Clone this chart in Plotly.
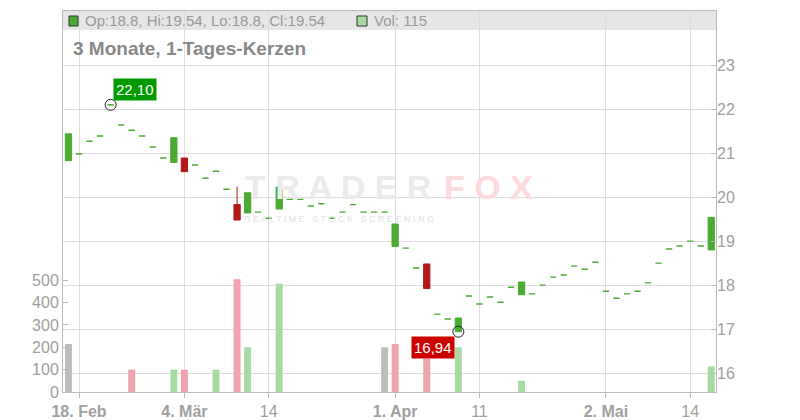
import plotly.graph_objects as go

# ---- data -------------------------------------------------------------
dates = [
    "2025-02-17", "2025-02-18", "2025-02-19", "2025-02-20", "2025-02-21",
    "2025-02-24", "2025-02-25", "2025-02-26", "2025-02-27", "2025-02-28",
    "2025-03-03", "2025-03-04", "2025-03-05", "2025-03-06", "2025-03-07",
    "2025-03-10", "2025-03-11", "2025-03-12", "2025-03-13", "2025-03-14",
    "2025-03-17", "2025-03-18", "2025-03-19", "2025-03-20", "2025-03-21",
    "2025-03-24", "2025-03-25", "2025-03-26", "2025-03-27", "2025-03-28",
    "2025-03-31", "2025-04-01", "2025-04-02", "2025-04-03", "2025-04-04",
    "2025-04-07", "2025-04-08", "2025-04-09", "2025-04-10", "2025-04-11",
    "2025-04-14", "2025-04-15", "2025-04-16", "2025-04-17", "2025-04-22",
    "2025-04-23", "2025-04-24", "2025-04-25", "2025-04-28", "2025-04-29",
    "2025-04-30", "2025-05-02", "2025-05-05", "2025-05-06", "2025-05-07",
    "2025-05-08", "2025-05-09", "2025-05-12", "2025-05-13", "2025-05-14",
    "2025-05-15", "2025-05-16",
]

open_ = [20.83, 20.98, 21.27, 21.39, 22.10, 21.64, 21.52, 21.39, 21.14, 20.89,
         20.79, 20.89, 20.73, 20.43, 20.59, 20.18, 19.83, 19.64, 19.66, 19.52,
         19.73, 19.95, 19.95, 19.80, 19.85, 19.52, 19.66, 19.83, 19.66, 19.66,
         19.66, 18.88, 18.84, 18.39, 18.48, 17.34, 17.23, 16.94, 17.75, 17.57,
         17.73, 17.61, 17.95, 17.78, 17.80, 18.00, 18.18, 18.23, 18.43, 18.36,
         18.52, 17.86, 17.70, 17.80, 17.86, 18.05, 18.50, 18.82, 18.89, 19.00,
         18.89, 18.80]
high = [21.44, 20.98, 21.27, 21.39, 22.10, 21.64, 21.52, 21.39, 21.14, 20.89,
        21.35, 20.89, 20.73, 20.43, 20.59, 20.18, 20.24, 20.10, 19.66, 19.52,
        20.23, 19.95, 19.95, 19.80, 19.85, 19.52, 19.66, 19.83, 19.66, 19.66,
        19.66, 19.39, 18.84, 18.39, 18.48, 17.34, 17.23, 17.25, 17.75, 17.57,
        17.73, 17.61, 17.95, 18.07, 17.80, 18.00, 18.18, 18.23, 18.43, 18.36,
        18.52, 17.86, 17.70, 17.80, 17.86, 18.05, 18.50, 18.82, 18.89, 19.00,
        18.89, 19.54]
low = [20.83, 20.98, 21.27, 21.39, 22.10, 21.64, 21.52, 21.39, 21.14, 20.89,
       20.79, 20.58, 20.73, 20.43, 20.59, 20.18, 19.48, 19.64, 19.66, 19.52,
       19.73, 19.95, 19.95, 19.80, 19.85, 19.52, 19.66, 19.83, 19.66, 19.66,
       19.66, 18.88, 18.84, 18.39, 17.92, 17.34, 17.23, 16.94, 17.75, 17.57,
       17.73, 17.61, 17.95, 17.78, 17.80, 18.00, 18.18, 18.23, 18.43, 18.36,
       18.52, 17.86, 17.70, 17.80, 17.86, 18.05, 18.50, 18.82, 18.89, 19.00,
       18.89, 18.80]
close = [21.44, 20.98, 21.27, 21.39, 22.10, 21.64, 21.52, 21.39, 21.14, 20.89,
         21.35, 20.58, 20.73, 20.43, 20.59, 20.18, 19.48, 20.10, 19.66, 19.52,
         20.23, 19.95, 19.95, 19.80, 19.85, 19.52, 19.66, 19.83, 19.66, 19.66,
         19.66, 19.39, 18.84, 18.39, 17.92, 17.34, 17.23, 17.25, 17.75, 17.57,
         17.73, 17.61, 17.95, 18.07, 17.80, 18.00, 18.18, 18.23, 18.43, 18.36,
         18.52, 17.86, 17.70, 17.80, 17.86, 18.05, 18.50, 18.82, 18.89, 19.00,
         18.89, 19.54]
volume = [215, 0, 0, 0, 0, 0, 100, 0, 0, 0,
          100, 100, 0, 0, 100, 0, 505, 200, 0, 0,
          485, 0, 0, 0, 0, 0, 0, 0, 0, 0,
          200, 215, 0, 0, 150, 0, 0, 200, 0, 0,
          0, 0, 0, 50, 0, 0, 0, 0, 0, 0,
          0, 0, 0, 0, 0, 0, 0, 0, 0, 0,
          0, 115]

tick_dates = ["2025-02-18", "2025-03-04", "2025-03-14", "2025-04-01",
              "2025-04-11", "2025-05-02", "2025-05-14"]
tick_labels = ["<b>18. Feb</b>", "<b>4. Mär</b>", "14", "<b>1. Apr</b>",
               "11", "<b>2. Mai</b>", "14"]
price_ticks = [16, 17, 18, 19, 20, 21, 22, 23]
volume_ticks = [0, 100, 200, 300, 400, 500]

title_text = "3 Monate, 1-Tages-Kerzen"

# ---- styles -----------------------------------------------------------
GREEN = "#4aaa32"
RED = "#b21818"
VOL_UP = "#a8dba3"
VOL_DOWN = "#efa3ac"
VOL_FLAT = "#bdbdbd"
GRID = "#dddddd"
AXIS = "#bbbbbb"
TXT = "#a0a0a0"
FONT = "Liberation Sans, Arial, sans-serif"

# split real candles and flat (dash) days
cand_idx = [i for i in range(len(dates)) if open_[i] != close[i]]
flat_idx = [i for i in range(len(dates)) if open_[i] == close[i]]

vol_colors = []
for i in range(len(dates)):
    if i == 0 or close[i] == close[i - 1]:
        vol_colors.append(VOL_FLAT)
    elif close[i] > close[i - 1]:
        vol_colors.append(VOL_UP)
    else:
        vol_colors.append(VOL_DOWN)

fig = go.Figure()

fig.add_trace(go.Bar(
    x=dates, y=volume, marker=dict(color=vol_colors, line=dict(width=0)),
    width=0.66, yaxis="y", hoverinfo="skip",
))

fig.add_trace(go.Candlestick(
    x=[dates[i] for i in flat_idx],
    open=[open_[i] for i in flat_idx], high=[high[i] for i in flat_idx],
    low=[low[i] for i in flat_idx], close=[close[i] for i in flat_idx],
    increasing=dict(line=dict(color=GREEN, width=1.4), fillcolor=GREEN),
    decreasing=dict(line=dict(color=GREEN, width=1.4), fillcolor=GREEN),
    yaxis="y2", hoverinfo="skip",
))

fig.add_trace(go.Candlestick(
    x=[dates[i] for i in cand_idx],
    open=[open_[i] for i in cand_idx], high=[high[i] for i in cand_idx],
    low=[low[i] for i in cand_idx], close=[close[i] for i in cand_idx],
    increasing=dict(line=dict(color=GREEN, width=1), fillcolor=GREEN),
    decreasing=dict(line=dict(color=RED, width=1), fillcolor=RED),
    yaxis="y2", hoverinfo="skip",
))

# extreme markers
i_hi = max(range(len(high)), key=lambda i: high[i])
i_lo = min(range(len(low)), key=lambda i: low[i])
fig.add_trace(go.Scatter(
    x=[dates[i_hi], dates[i_lo]], y=[high[i_hi], low[i_lo]], mode="markers",
    marker=dict(symbol="circle-open", size=11, color="#222222", line=dict(width=1)),
    yaxis="y2", hoverinfo="skip",
))

def fmt(v):
    return f"{v:.2f}".replace(".", ",")

annotations = [
    dict(x=dates[i_hi], y=high[i_hi], xref="x", yref="y2", text=fmt(high[i_hi]),
         showarrow=False, xanchor="left", yanchor="bottom", xshift=2, yshift=4,
         bgcolor="#009900", borderpad=2, font=dict(color="white", size=15, family=FONT)),
    dict(x=dates[i_lo], y=low[i_lo], xref="x", yref="y2", text=fmt(low[i_lo]),
         showarrow=False, xanchor="right", yanchor="top", xshift=-3, yshift=-4,
         bgcolor="#cc0000", borderpad=2, font=dict(color="white", size=15, family=FONT)),
]

# pixel helpers for paper coords (plot area 63..716 x 11..392)
L, R, T, B = 63, 716, 11, 392
def px(x):
    return (x - L) / (R - L)
def py(y):
    return (B - y) / (B - T)

last = len(dates) - 1
legend_text = (f"Op:{open_[last]:g}, Hi:{high[last]:g}, "
               f"Lo:{low[last]:g}, Cl:{close[last]:g}")
annotations += [
    dict(x=px(83), y=py(20.5), xref="paper", yref="paper", text=legend_text,
         showarrow=False, xanchor="left", yanchor="middle",
         font=dict(size=15, color="#999999", family=FONT)),
    dict(x=px(372), y=py(20.5), xref="paper", yref="paper",
         text=f"Vol: {volume[last]}", showarrow=False, xanchor="left", yanchor="middle",
         font=dict(size=15, color="#999999", family=FONT)),
    dict(x=px(71), y=py(48), xref="paper", yref="paper", text=f"<b>{title_text}</b>",
         showarrow=False, xanchor="left", yanchor="middle",
         font=dict(size=19, color="#888888", family=FONT)),
    # watermark
    dict(x=px(338), y=py(187), xref="paper", yref="paper", text="<b>T R A D E R</b>",
         showarrow=False, xanchor="center", yanchor="middle",
         font=dict(size=34, color="#ebebeb", family=FONT)),
    dict(x=px(488), y=py(187), xref="paper", yref="paper", text="<b>F O X</b>",
         showarrow=False, xanchor="center", yanchor="middle",
         font=dict(size=34, color="#fcdadd", family=FONT)),
    dict(x=px(339), y=py(219), xref="paper", yref="paper", text="R E A L T I M E   S T O C K   S C R E E N I N G",
         showarrow=False, xanchor="center", yanchor="middle",
         font=dict(size=9, color="#e2e2e2", family=FONT)),
]

shapes = [
    dict(type="rect", xref="paper", yref="paper", x0=0, x1=1, y0=py(30), y1=1,
         fillcolor="#e6e6e6", line=dict(width=0), layer="below"),
    dict(type="rect", xref="paper", yref="paper", x0=px(69), x1=px(78),
         y0=py(26), y1=py(16), fillcolor=GREEN, line=dict(color="#333333", width=1)),
    dict(type="rect", xref="paper", yref="paper", x0=px(357), x1=px(367),
         y0=py(26), y1=py(16), fillcolor=VOL_UP, line=dict(color="#333333", width=1)),
]

fig.update_layout(
    width=800, height=420,
    margin=dict(l=L, r=800 - R, t=T, b=420 - B, autoexpand=False),
    paper_bgcolor="white", plot_bgcolor="white",
    showlegend=False, hovermode=False, boxgap=0.15,
    font=dict(family=FONT, color=TXT),
    annotations=annotations, shapes=shapes,
    xaxis=dict(
        type="category", categoryorder="array", categoryarray=dates,
        range=[-0.52, len(dates) - 0.55],
        tickvals=tick_dates, ticktext=tick_labels,
        showgrid=True, gridcolor=GRID, gridwidth=1,
        showline=True, mirror=True, linecolor=AXIS, linewidth=1,
        ticks="outside", ticklen=5, tickcolor=AXIS,
        tickfont=dict(size=16, color=TXT, family=FONT),
        rangeslider=dict(visible=False), zeroline=False,
    ),
    yaxis=dict(
        side="left", range=[0, 1705], tickvals=volume_ticks,
        showgrid=False, zeroline=False,
        showline=True, mirror=True, linecolor=AXIS, linewidth=1,
        ticks="inside", ticklen=5, tickcolor=AXIS,
        tickfont=dict(size=16, color=TXT, family=FONT),
    ),
    yaxis2=dict(
        side="right", overlaying="y", range=[15.568, 24.234], tickvals=price_ticks,
        showgrid=True, gridcolor=GRID, gridwidth=1, zeroline=False,
        showline=False,
        ticks="inside", ticklen=5, tickcolor=AXIS,
        tickfont=dict(size=16, color=TXT, family=FONT),
    ),
)

fig.write_html("out.html", config={"displayModeBar": False},
               post_script="document.body.style.margin='0px';")
